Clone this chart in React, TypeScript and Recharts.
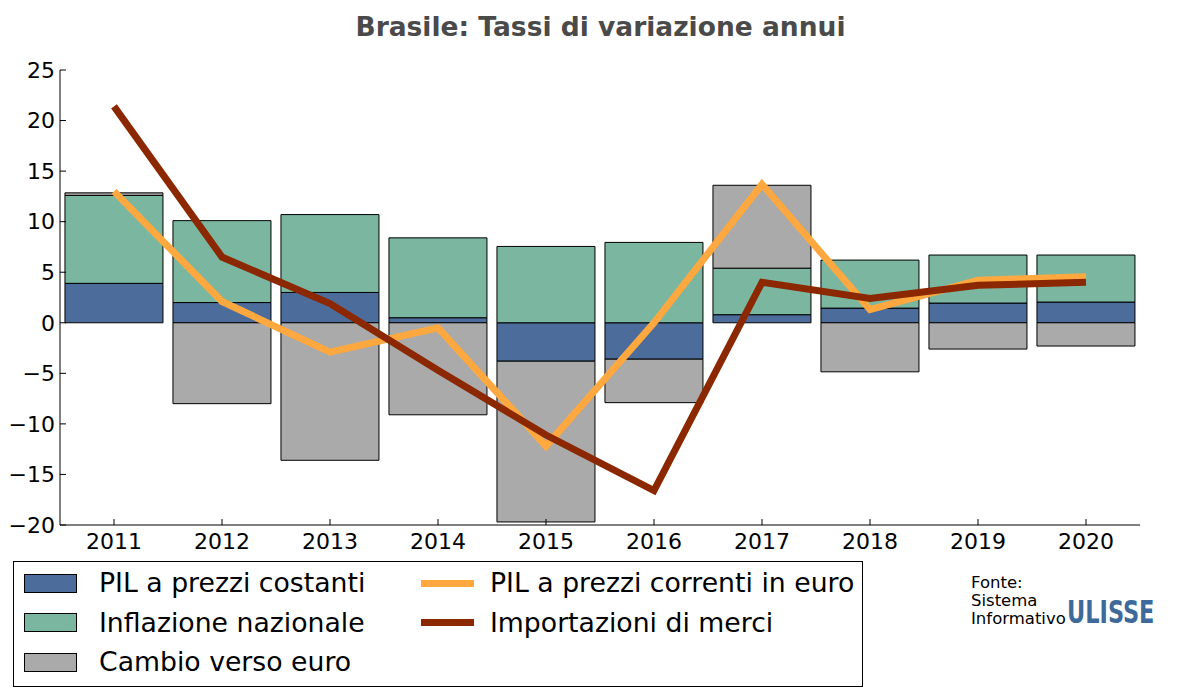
import React from 'react';
import { ComposedChart, Bar, Line, XAxis, YAxis, Legend } from 'recharts';

const years = ['2011', '2012', '2013', '2014', '2015', '2016', '2017', '2018', '2019', '2020'];
const pilCostanti = [3.9, 2.0, 3.0, 0.5, -3.8, -3.6, 0.8, 1.45, 1.95, 2.05];
const inflazione = [8.7, 8.1, 7.7, 7.9, 7.55, 7.95, 4.6, 4.75, 4.75, 4.65];
const cambio = [0.25, -8.0, -13.6, -9.1, -15.9, -4.3, 8.2, -4.85, -2.6, -2.3];
const pilCorrenti = [13.0, 2.1, -2.9, -0.5, -12.2, 0.0, 13.7, 1.3, 4.2, 4.55];
const importazioni = [21.4, 6.5, 1.9, -4.7, -11.1, -16.6, 4.0, 2.4, 3.7, 4.0];
const yTicks = [-20, -15, -10, -5, 0, 5, 10, 15, 20, 25];

const data = years.map((y, i) => ({
  year: y,
  pil: pilCostanti[i],
  infl: inflazione[i],
  cambio: cambio[i],
  corr: pilCorrenti[i],
  imp: importazioni[i],
}));

const FONT = '"DejaVu Sans", sans-serif';
const C_BLUE = '#4c6d9b';
const C_GREEN = '#7bb6a0';
const C_GREY = '#aaaaaa';
const C_ORANGE = '#ffa83f';
const C_BROWN = '#8b2800';

const fmt = (v: number) => (v < 0 ? `\u2212${-v}` : `${v}`);

const legendItems = [
  { label: 'PIL a prezzi costanti', color: C_BLUE, type: 'rect', col: 0, row: 0 },
  { label: 'Inflazione nazionale', color: C_GREEN, type: 'rect', col: 0, row: 1 },
  { label: 'Cambio verso euro', color: C_GREY, type: 'rect', col: 0, row: 2 },
  { label: 'PIL a prezzi correnti in euro', color: C_ORANGE, type: 'line', col: 1, row: 0 },
  { label: 'Importazioni di merci', color: C_BROWN, type: 'line', col: 1, row: 1 },
];

const LegendContent = () => (
  <div
    style={{
      position: 'relative',
      width: 850,
      height: 126,
      border: '1px solid #000',
      background: '#fff',
      boxSizing: 'border-box',
      fontFamily: FONT,
    }}
  >
    {legendItems.map((it) => {
      const left = it.col === 0 ? 10 : 407;
      const top = 10 + it.row * 39.5;
      return (
        <div key={it.label} style={{ position: 'absolute', left, top, height: 22, display: 'flex', alignItems: 'center', whiteSpace: 'nowrap' }}>
          {it.type === 'rect' ? (
            <div style={{ width: 53, height: 19, background: it.color, border: '1px solid #000', boxSizing: 'border-box' }} />
          ) : (
            <div style={{ width: 53, height: 7, background: it.color }} />
          )}
          <span style={{ marginLeft: it.type === 'rect' ? 22 : 16, fontSize: 26.7, color: '#000', lineHeight: '22px' }}>{it.label}</span>
        </div>
      );
    })}
  </div>
);

export default function App() {
  return (
    <div style={{ position: 'absolute', left: 0, top: 0, width: 1200, height: 700, background: '#fff' }}>
      <div
        style={{
          position: 'absolute',
          left: 0,
          top: 11,
          width: 1201,
          textAlign: 'center',
          fontFamily: FONT,
          fontWeight: 'bold',
          fontSize: 26.5,
          color: '#4a4a4a',
        }}
      >
        Brasile: Tassi di variazione annui
      </div>
      <ComposedChart
        width={1200}
        height={700}
        data={data}
        stackOffset="sign"
        barCategoryGap="4.6%"
        margin={{ top: 70, right: 60, bottom: 135, left: 0 }}
      >
        <XAxis
          dataKey="year"
          height={40}
          axisLine={{ stroke: '#000', strokeWidth: 1 }}
          tickLine={{ stroke: '#000' }}
          tickSize={-6}
          tickMargin={14}
          tick={{ fill: '#000', fontSize: 22, fontFamily: FONT }}
        />
        <YAxis
          width={60}
          domain={[-20, 25]}
          ticks={yTicks}
          interval={0}
          allowDataOverflow
          axisLine={{ stroke: '#000', strokeWidth: 1 }}
          tickLine={{ stroke: '#000' }}
          tickSize={-6}
          tickMargin={11}
          tickFormatter={fmt}
          tick={{ fill: '#000', fontSize: 22, fontFamily: FONT }}
        />
        <Bar dataKey="pil" stackId="a" fill={C_BLUE} stroke="#000" strokeWidth={1} isAnimationActive={false} />
        <Bar dataKey="infl" stackId="a" fill={C_GREEN} stroke="#000" strokeWidth={1} isAnimationActive={false} />
        <Bar dataKey="cambio" stackId="a" fill={C_GREY} stroke="#000" strokeWidth={1} isAnimationActive={false} />
        <Line dataKey="corr" type="linear" stroke={C_ORANGE} strokeWidth={7} dot={false} activeDot={false} isAnimationActive={false} />
        <Line dataKey="imp" type="linear" stroke={C_BROWN} strokeWidth={7} dot={false} activeDot={false} isAnimationActive={false} />
        <Legend
          verticalAlign="middle"
          align="center"
          layout="horizontal"
          wrapperStyle={{ position: 'absolute', left: 13, top: 561, width: 850, height: 126 }}
          content={() => <LegendContent />}
        />
      </ComposedChart>
      <div
        style={{
          position: 'absolute',
          left: 971,
          top: 574,
          fontFamily: FONT,
          fontSize: 16.5,
          lineHeight: '18px',
          color: '#000',
        }}
      >
        Fonte:
        <br />
        Sistema
        <br />
        Informativo
      </div>
      <div
        style={{
          position: 'absolute',
          left: 1067,
          top: 594,
          width: 120,
          height: 36,
          fontFamily: '"DejaVu Sans Condensed", "DejaVu Sans", sans-serif',
          fontWeight: 'bold',
          fontSize: 32,
          lineHeight: '36px',
          color: '#3d6a9a',
          whiteSpace: 'nowrap',
          transform: 'scaleX(0.78)',
          transformOrigin: 'left center',
        }}
      >
        ULISSE
      </div>
    </div>
  );
}
